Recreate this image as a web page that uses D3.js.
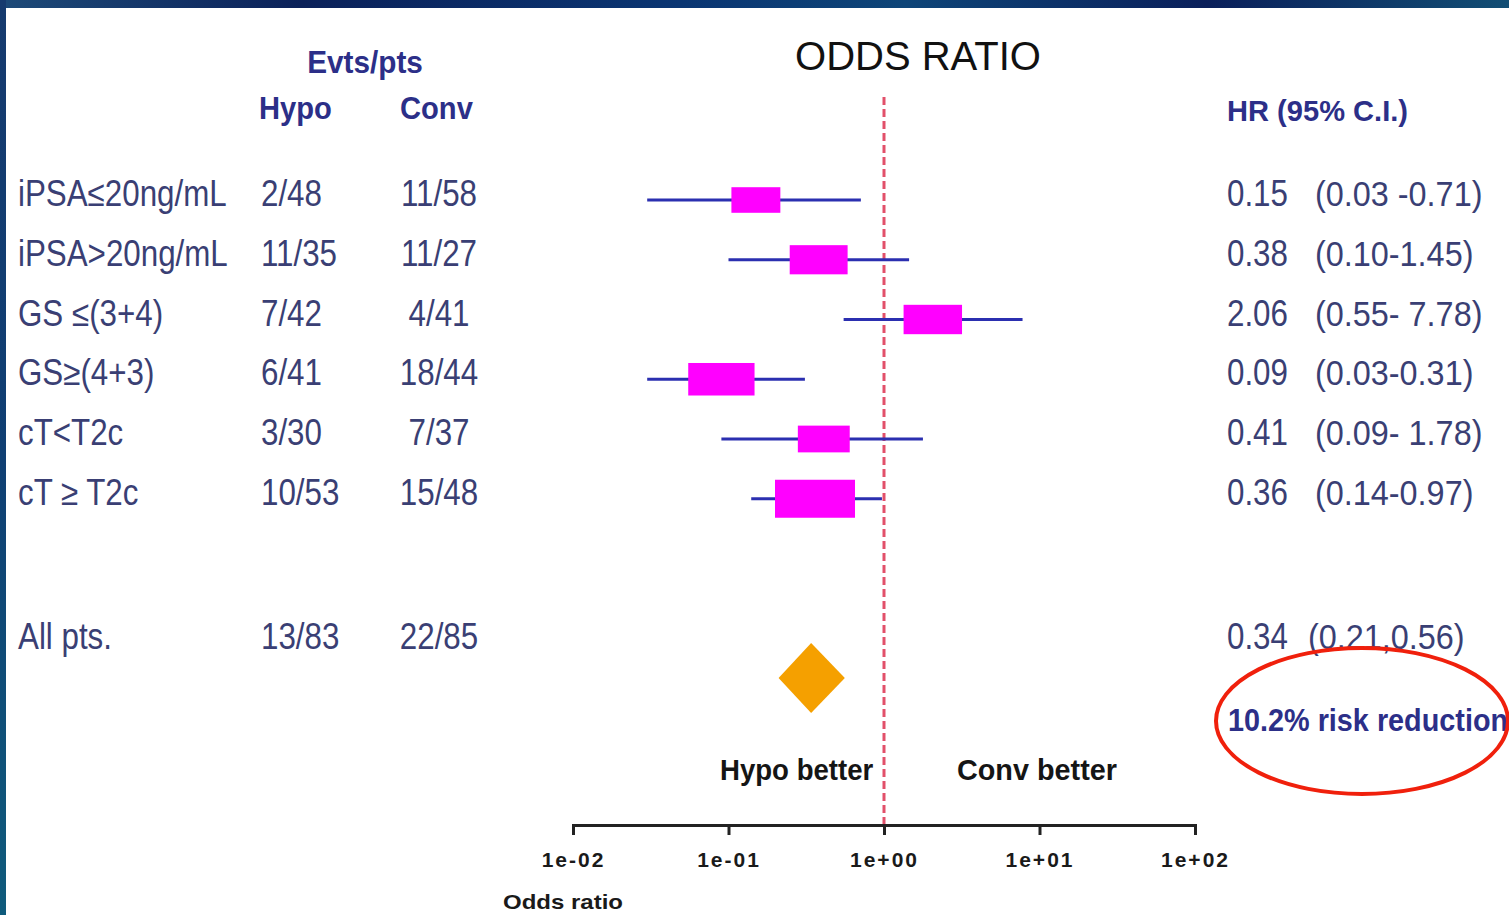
<!DOCTYPE html>
<html>
<head>
<meta charset="utf-8">
<script src="https://cdn.jsdelivr.net/npm/d3@7/dist/d3.min.js"></script>
<style>
  html, body { margin: 0; padding: 0; background: #ffffff; overflow: hidden; }
  svg { display: block; }
  text { font-family: "Liberation Sans", Arial, sans-serif; }
</style>
</head>
<body>
<svg id="chart" width="1509" height="915"></svg>
<script>
// Subgroup analysis: events / patients per arm and hazard ratios with 95% CI
const subgroups   = ["iPSA\u226420ng/mL", "iPSA>20ng/mL", "GS \u2264(3+4)", "GS\u2265(4+3)", "cT<T2c", "cT \u2265 T2c"];
const hypoEvents  = [2, 11, 7, 6, 3, 10];
const hypoPts     = [48, 35, 42, 41, 30, 53];
const convEvents  = [11, 11, 4, 18, 7, 15];
const convPts     = [58, 27, 41, 44, 37, 48];
const hr          = [0.15, 0.38, 2.06, 0.09, 0.41, 0.36];
const ciLow       = [0.03, 0.10, 0.55, 0.03, 0.09, 0.14];
const ciHigh      = [0.71, 1.45, 7.78, 0.31, 1.78, 0.97];
const ciSep       = [" -", "-", "- ", "-", "- ", "-"];

// Pooled estimate
const allLabel      = "All pts.";
const allHypo       = [13, 83];
const allConv       = [22, 85];
const allHr         = 0.34;
const allCi         = [0.21, 0.56];
const riskReduction = 10.2;

// Axis
const axisTicks      = [0.01, 0.1, 1, 10, 100];
const axisTickLabels = ["1e-02", "1e-01", "1e+00", "1e+01", "1e+02"];

const svg = d3.select("#chart");
const W = 1509, H = 915;

// ---- slide frame ----
const defs = svg.append("defs");
const gTop = defs.append("linearGradient").attr("id", "frameTop").attr("x1", 0).attr("x2", 1).attr("y1", 0).attr("y2", 0);
[["0%", "#1d4a78"], ["20%", "#0b2159"], ["45%", "#0a3572"], ["60%", "#0e4578"], ["80%", "#0a1f5a"], ["100%", "#124e74"]]
  .forEach(([o, c]) => gTop.append("stop").attr("offset", o).attr("stop-color", c));
const gLeft = defs.append("linearGradient").attr("id", "frameLeft").attr("x1", 0).attr("x2", 0).attr("y1", 0).attr("y2", 1);
[["0%", "#163a6e"], ["50%", "#0f3f73"], ["100%", "#0f5b7c"]]
  .forEach(([o, c]) => gLeft.append("stop").attr("offset", o).attr("stop-color", c));

svg.append("rect").attr("width", W).attr("height", H).attr("fill", "#ffffff");
svg.append("rect").attr("x", 0).attr("y", 0).attr("width", W).attr("height", 8).attr("fill", "url(#frameTop)");
svg.append("rect").attr("x", 0).attr("y", 0).attr("width", 6).attr("height", H).attr("fill", "url(#frameLeft)");

// ---- scales ----
const x = d3.scaleLog().domain([0.01, 100]).range([573, 1195]);
const slots = d3.range(9);
const y = d3.scalePoint().domain(slots).range([200, 678]);

// box size from precision of the log estimate
const precision = (lo, hi) => (2 * 1.96) / (Math.log(hi) - Math.log(lo));
const precs = hr.map((d, i) => precision(ciLow[i], ciHigh[i]));
const boxW = d3.scaleLinear().domain([0, d3.max(precs)]).range([0, 80]);

// condensed text helper
function label(g, str, px, py, opts) {
  const o = Object.assign({ size: 36, weight: "normal", fill: "#3a3f74", anchor: "start", sx: 0.87 }, opts || {});
  return g.append("text")
    .attr("transform", `translate(${px},${py}) scale(${o.sx},1)`)
    .attr("text-anchor", o.anchor)
    .attr("font-size", o.size)
    .attr("font-weight", o.weight)
    .attr("fill", o.fill)
    .text(str);
}

const txt = svg.append("g");
const headColor = "#2c2f88";

// headers
label(txt, "Evts/pts", 365, 73, { size: 32, weight: "bold", fill: headColor, anchor: "middle", sx: 0.93 });
label(txt, "Hypo", 259, 119, { size: 31, weight: "bold", fill: headColor, sx: 0.94 });
label(txt, "Conv", 400, 119, { size: 31, weight: "bold", fill: headColor, sx: 0.94 });
label(txt, "ODDS RATIO", 918, 70, { size: 40, fill: "#111111", anchor: "middle", sx: 1.0 });
label(txt, "HR (95% C.I.)", 1227, 121, { size: 30, weight: "bold", fill: headColor, sx: 0.97 });

// subgroup rows
const fmt = d3.format(".2f");
subgroups.forEach((name, i) => {
  const ty = y(i) + 6;
  label(txt, name, 18, ty);
  label(txt, `${hypoEvents[i]}/${hypoPts[i]}`, 261, ty);
  label(txt, `${convEvents[i]}/${convPts[i]}`, 439, ty, { anchor: "middle" });
  label(txt, fmt(hr[i]), 1227, ty);
  label(txt, `(${fmt(ciLow[i])}${ciSep[i]}${fmt(ciHigh[i])})`, 1315, ty, { sx: 0.9 });
});

// pooled row
const yAll = y(8);
label(txt, allLabel, 18, yAll - 29);
label(txt, `${allHypo[0]}/${allHypo[1]}`, 261, yAll - 29);
label(txt, `${allConv[0]}/${allConv[1]}`, 439, yAll - 29, { anchor: "middle" });
label(txt, fmt(allHr), 1227, yAll - 29);
label(txt, `(${fmt(allCi[0])},${fmt(allCi[1])})`, 1308, yAll - 29, { sx: 0.9 });

// reference line at OR = 1
svg.append("line")
  .attr("x1", x(1)).attr("x2", x(1))
  .attr("y1", 97).attr("y2", 826)
  .attr("stroke", "#e2506a").attr("stroke-width", 3)
  .attr("stroke-dasharray", "8,4");

// CI whiskers and boxes
const marks = svg.append("g");
marks.selectAll("line.ci").data(hr).join("line")
  .attr("class", "ci")
  .attr("x1", (d, i) => x(ciLow[i])).attr("x2", (d, i) => x(ciHigh[i]))
  .attr("y1", (d, i) => y(i)).attr("y2", (d, i) => y(i))
  .attr("stroke", "#2b2fb0").attr("stroke-width", 3);

marks.selectAll("rect.box").data(hr).join("rect")
  .attr("class", "box")
  .attr("x", (d, i) => x(d) - boxW(precs[i]) / 2)
  .attr("y", (d, i) => y(i) - (0.4 * boxW(precs[i]) + 6) / 2)
  .attr("width", (d, i) => boxW(precs[i]))
  .attr("height", (d, i) => 0.4 * boxW(precs[i]) + 6)
  .attr("fill", "#ff00ff");

// pooled diamond spans its CI
marks.append("path")
  .attr("d", `M${x(allCi[0])},${yAll} L${x(allHr)},${yAll - 35} L${x(allCi[1])},${yAll} L${x(allHr)},${yAll + 35} Z`)
  .attr("fill", "#f5a000");

// direction captions
label(txt, "Hypo better", 720, 780, { size: 30, weight: "bold", fill: "#151515", sx: 0.92 });
label(txt, "Conv  better", 957, 780, { size: 30, weight: "bold", fill: "#151515", sx: 0.96 });

// risk reduction call-out
label(txt, `${riskReduction}% risk reduction`, 1228, 731, { size: 32, weight: "bold", fill: headColor, sx: 0.9 });
svg.append("ellipse")
  .attr("cx", 1362).attr("cy", 721).attr("rx", 146).attr("ry", 73)
  .attr("fill", "none").attr("stroke", "#f0200c").attr("stroke-width", 4);

// x axis
const axis = d3.axisBottom(x)
  .tickValues(axisTicks)
  .tickFormat((d, i) => axisTickLabels[i])
  .tickSizeInner(10).tickSizeOuter(10).tickPadding(17);
const gAxis = svg.append("g").attr("transform", "translate(0,825)").call(axis);
gAxis.select(".domain").attr("stroke", "#222222").attr("stroke-width", 3);
gAxis.selectAll(".tick line").attr("stroke", "#222222").attr("stroke-width", 3);
gAxis.selectAll(".tick text")
  .attr("font-family", "\"Liberation Sans\", Arial, sans-serif")
  .attr("font-size", 21).attr("font-weight", "bold").attr("fill", "#1a1a1a")
  .attr("letter-spacing", 2);

label(txt, "Odds ratio", 503, 909, { size: 20, weight: "bold", fill: "#1a1a1a", sx: 1.2 });
</script>
</body>
</html>
